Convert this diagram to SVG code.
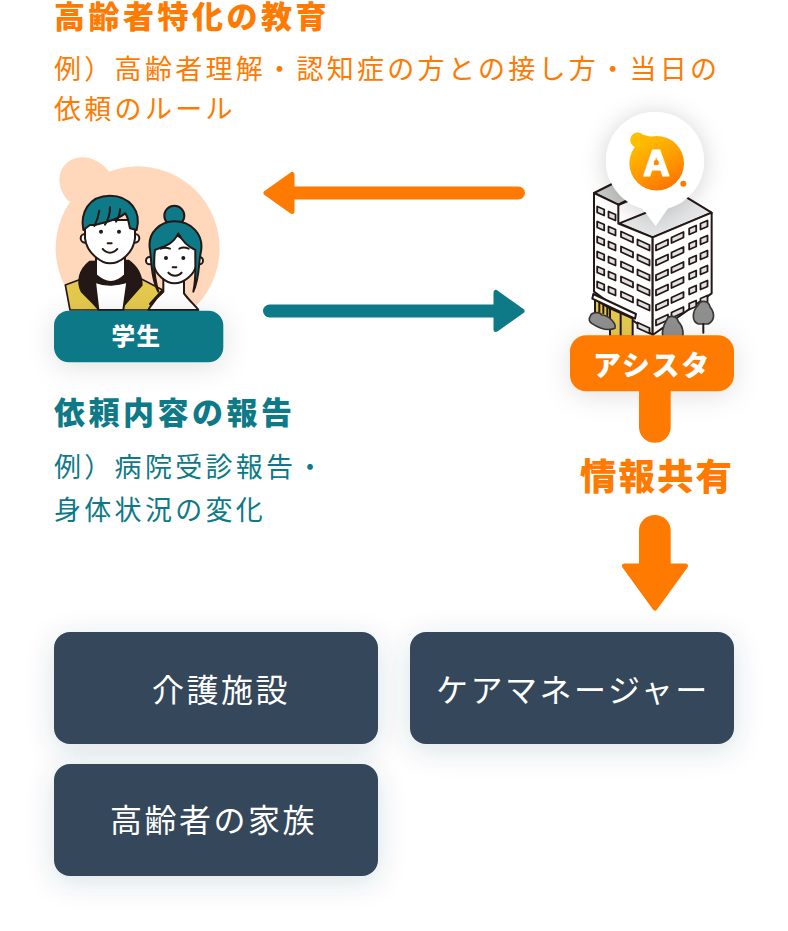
<svg xmlns="http://www.w3.org/2000/svg" width="788" height="931" viewBox="0 0 788 931">
<style>
text{font-family:"Noto Sans CJK JP","Noto Sans",sans-serif}
.h{font-size:31px;font-weight:900;letter-spacing:3.500px}
.s{font-size:27px;font-weight:400;letter-spacing:3.300px}
.o{fill:#ff7a00}.t{fill:#0e7987}
.b{fill:#36465a;filter:url(#sh)}
.bt{fill:#fff;font-size:32px;font-weight:400;letter-spacing:2.500px;text-anchor:middle}
.k{fill:none;stroke:#231815;stroke-width:6;stroke-linecap:round;stroke-linejoin:round}
.kb{stroke:#231815;stroke-width:6;stroke-linecap:round;stroke-linejoin:round}
.w{stroke:#231815;stroke-width:1.800;stroke-linejoin:round;fill:#e2e2e2}
.tree{fill:#8f8f8f;stroke:#3a3532;stroke-width:5;stroke-linejoin:round}
</style>
<defs>
<filter id="sh" x="-30%" y="-50%" width="160%" height="220%"><feDropShadow dx="0" dy="6" stdDeviation="14" flood-color="#36465a" flood-opacity=".16"/></filter>
<filter id="sh2" x="-40%" y="-80%" width="180%" height="280%"><feDropShadow dx="0" dy="4" stdDeviation="14" flood-color="#000" flood-opacity=".12"/></filter>
<filter id="sh3" x="-40%" y="-40%" width="180%" height="180%"><feDropShadow dx="0" dy="2" stdDeviation="12" flood-color="#000" flood-opacity=".18"/></filter>
<linearGradient id="lg" x1="0.15" y1="0" x2="0.7" y2="1"><stop offset="0" stop-color="#ffc400"/><stop offset=".55" stop-color="#ff9c00"/><stop offset="1" stop-color="#ff7200"/></linearGradient>
<polygon id="ls" points="-3.500,-4.500 3.500,-1.500 3.500,4.500 -3.500,1.500" class="w"/>
<polygon id="rs" points="-3.500,-1.500 3.500,-4.500 3.500,1.500 -3.500,4.500" class="w"/>
<polygon id="lw" points="-6,-5.500 6,0 6,5.500 -6,0" class="w"/>
<polygon id="rw" points="-6,0 6,-5.500 6,0 -6,5.500" class="w"/>
<clipPath id="pc"><rect x="0" y="0" width="600" height="500"/></clipPath>
</defs>

<g id="student">
<g transform="translate(40,150) scale(.3333)">
<g clip-path="url(#pc)">
<circle cx="293" cy="295" r="246" fill="#ffd8bc"/>
<path fill="#ffd8bc" d="M205 62C170 20 120 10 85 35C50 60 50 110 82 150L140 180L240 90Z"/>
<path d="M76 405L130 385L300 385L368 420L330 480L90 480Z" fill="#e5c94e" stroke="#231815" stroke-width="5" stroke-linejoin="round"/>
<path class="kb" fill="#231815" d="M150 335C118 360 110 395 125 425L160 460L178 480H240L265 450L305 405C305 375 290 350 265 332Z"/>
<path class="kb" fill="#fff" d="M165 395C200 405 230 405 262 395L250 480H175Z"/>
<path class="kb" fill="#fff" d="M168 320V375C200 405 230 400 255 375V320Z"/>
<path d="M162 395C200 410 230 405 265 395" class="k"/>
<circle cx="135" cy="265" r="13" fill="#fff" class="kb"/><circle cx="285" cy="265" r="13" fill="#fff" class="kb"/>
<path class="kb" fill="#fff" d="M135 210V265C140 310 185 340 210 340C240 340 280 310 285 265V210Z"/>
<path class="kb" fill="#0e7987" d="M130 240C120 190 145 137 210 137C270 137 305 185 290 240L270 235C265 215 265 200 255 190C240 205 210 215 165 225L150 225Z"/>
<path class="k" d="M178 182C175 200 170 215 163 228M210 172C210 190 205 210 195 224M240 178C240 190 235 205 228 215"/>
<circle cx="183" cy="245" r="6" fill="#231815"/><circle cx="237" cy="245" r="6" fill="#231815"/>
<path class="k" d="M203 280H215M188 297C200 312 220 312 232 297" stroke-width="4"/>
<circle cx="403" cy="197" r="30" fill="#0e7987" class="kb"/>
<circle cx="329" cy="332" r="11" fill="#fff" class="kb"/><circle cx="478" cy="332" r="11" fill="#fff" class="kb"/>
<path class="kb" fill="#fff" d="M370 385V425C340 450 335 465 325 480H475C470 470 450 455 432 430V385Z"/>
<path class="kb" fill="#fff" d="M340 290V340C345 375 380 400 403 400C430 400 465 375 470 340V290L400 250Z"/>
<path class="kb" fill="#0e7987" d="M330 300C320 245 365 214 403 214C450 214 495 250 482 310C475 340 480 380 460 425C470 380 465 340 466 300C445 290 425 270 415 250C395 290 365 290 345 300C340 340 345 390 355 425C335 390 335 340 330 300Z"/>
<circle cx="378" cy="324" r="6" fill="#231815"/><circle cx="430" cy="324" r="6" fill="#231815"/>
<path class="k" d="M398 352H409M385 368C395 380 415 380 425 368" stroke-width="4"/>
<path class="k" d="M362 296C372 292 380 292 390 296M418 296C426 292 436 292 446 296" stroke-width="3"/>
<path d="M368 420L330 462" class="k"/>
</g>
</g>
<rect x="54" y="310.700" width="169.300" height="51.600" rx="15" fill="#0e7987" filter="url(#sh2)"/>
<text x="136.500" y="345" text-anchor="middle" font-size="23.500" font-weight="900" letter-spacing="1.500" fill="#fff">学生</text>
</g>

<g id="assista">
<g transform="translate(560,220) scale(.3333)">
<path fill="#c9c9c9" class="kb" d="M102 -81L180 -120L270 -85L175 -45Z"/>
<path fill="#e6e7e9" class="kb" d="M178 10L278 -30L360 -80L455 -22L278 52Z"/>
<path fill="#fff" class="kb" d="M102 -81L175 -46V11L278 52V345L102 215Z"/>
<path fill="#fff" class="kb" d="M278 52L455 -22V220L278 345Z"/>
<path class="k" d="M175 -46L270 -95"/>
</g>
<g id="windows">
<use href="#ls" x="600.700" y="211"/><use href="#ls" x="600.700" y="226"/><use href="#ls" x="600.700" y="241"/><use href="#ls" x="600.700" y="256"/><use href="#ls" x="600.700" y="271"/><use href="#ls" x="600.700" y="286"/>
<use href="#ls" x="612" y="216"/><use href="#ls" x="612" y="231"/><use href="#ls" x="612" y="246"/><use href="#ls" x="612" y="261"/><use href="#ls" x="612" y="276"/><use href="#ls" x="612" y="291"/>
<use href="#lw" x="627" y="237"/><use href="#lw" x="627" y="252"/><use href="#lw" x="627" y="267"/><use href="#lw" x="627" y="282"/><use href="#lw" x="627" y="297"/>
<use href="#lw" x="643.500" y="245"/><use href="#lw" x="643.500" y="260"/><use href="#lw" x="643.500" y="275"/><use href="#lw" x="643.500" y="290"/><use href="#lw" x="643.500" y="305"/><use href="#lw" x="643.500" y="328"/>
<use href="#rw" x="662" y="245"/><use href="#rw" x="662" y="260"/><use href="#rw" x="662" y="275"/><use href="#rw" x="662" y="290"/><use href="#rw" x="662" y="305"/><use href="#rw" x="662" y="320"/>
<use href="#rw" x="677.500" y="237.500"/><use href="#rw" x="677.500" y="252.500"/><use href="#rw" x="677.500" y="267.500"/><use href="#rw" x="677.500" y="282.500"/><use href="#rw" x="677.500" y="297.500"/><use href="#rw" x="677.500" y="312.500"/>
<use href="#rs" x="692.700" y="230"/><use href="#rs" x="692.700" y="245"/><use href="#rs" x="692.700" y="260"/><use href="#rs" x="692.700" y="275"/><use href="#rs" x="692.700" y="290"/><use href="#rs" x="692.700" y="305"/>
<use href="#rs" x="704" y="225"/><use href="#rs" x="704" y="240"/><use href="#rs" x="704" y="255"/><use href="#rs" x="704" y="270"/><use href="#rs" x="704" y="285"/><use href="#rs" x="704" y="300"/>
</g>
<g transform="translate(560,220) scale(.3333)">
<path fill="#e5c94e" class="kb" d="M105 238V280L150 300V265ZM150 265L218 295V350H150Z" stroke-width="4"/>
<path class="k" d="M118 245V275M130 250V280M142 255V285M182 280V350" stroke-width="4"/>
<path fill="#fff" class="kb" d="M100 222L228 282L225 296L97 236Z"/>
<path class="tree" d="M90 290C95 275 120 275 125 285C145 285 170 310 165 325C140 335 110 320 95 310C88 305 85 297 90 290Z"/>
<path class="tree" d="M320 300C325 285 350 285 355 305C370 320 375 350 360 360H315C300 345 310 315 320 300Z"/>
<path class="tree" d="M415 255C420 240 445 240 450 260C465 280 465 300 445 312H415C395 305 395 275 415 255Z"/>
<path class="k" d="M430 312V338" stroke-width="4"/>
</g>
<g filter="url(#sh3)" fill="#fff"><circle cx="655" cy="161" r="49"/><path d="M640 205H670L655.700 226Z"/></g>
<g id="logo">
<circle cx="656.700" cy="163.300" r="27.300" fill="url(#lg)"/>
<circle cx="637.700" cy="140" r="7.500" fill="#ffc000"/>
<path d="M640 134L652 137L640 150Z" fill="#ffb800"/>
<circle cx="683.300" cy="183.700" r="3" fill="#ff7a00"/>
<text x="656.500" y="175.500" text-anchor="middle" font-size="36" font-weight="700" fill="#fff" style="font-family:'Inter','Liberation Sans',sans-serif" stroke="#fff" stroke-width="1" stroke-linejoin="round">A</text>
<circle cx="656.300" cy="162.500" r="2.500" fill="#ff8a00"/>
</g>
<rect x="570" y="335.300" width="164" height="56" rx="16" class="o" filter="url(#sh2)"/>
<text x="652" y="376" text-anchor="middle" font-size="28" font-weight="900" letter-spacing="1.800" fill="#fff">アシスタ</text>
</g>

<g id="connectors">
<g class="o"><rect x="281" y="186.500" width="244" height="13" rx="6.500"/><polygon points="266,193 292,174.500 292,211.500" stroke="#ff7a00" stroke-width="5" stroke-linejoin="round"/></g>
<g class="t"><rect x="263" y="304.500" width="244" height="13" rx="6.500"/><polygon points="522,311 496,292.500 496,329.500" stroke="#0e7987" stroke-width="5" stroke-linejoin="round"/></g>
<g class="o"><path d="M639 385H670.700V427a15.850 15.850 0 0 1-31.700 0Z"/><path d="M639 564V530.800a15.850 15.850 0 0 1 31.700 0V564Z"/><polygon points="624.500,566 685.500,566 655,608" stroke="#ff7a00" stroke-width="5" stroke-linejoin="round"/></g>
</g>

<g id="labels">
<text x="54" y="28" class="h o">高齢者特化の教育</text>
<text x="54" y="79" class="s o">例）高齢者理解・認知症の方との接し方・当日の</text>
<text x="54" y="119" class="s o">依頼のルール</text>
<text x="54" y="424" class="h t">依頼内容の報告</text>
<text x="54" y="477" class="s t">例）病院受診報告・</text>
<text x="54" y="520" class="s t">身体状況の変化</text>
<text x="657" y="490" text-anchor="middle" font-size="36.500" font-weight="900" letter-spacing="2" class="o">情報共有</text>
</g>

<g id="box-care-facility"><rect x="54" y="632" width="324" height="112" rx="16" class="b"/><text x="221" y="702" class="bt">介護施設</text></g>
<g id="box-care-manager"><rect x="410" y="632" width="324" height="112" rx="16" class="b"/><text x="573" y="702" class="bt">ケアマネージャー</text></g>
<g id="box-family"><rect x="54" y="764" width="324" height="112" rx="16" class="b"/><text x="213.500" y="832" class="bt">高齢者の家族</text></g>
</svg>
